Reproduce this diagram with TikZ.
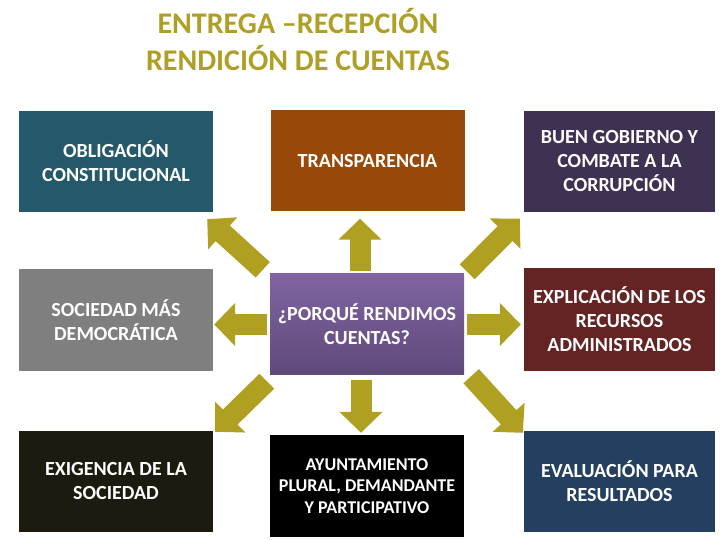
\documentclass[tikz,border=0pt]{standalone}
\usepackage{fontspec}
\setmainfont{Carlito}
\usepackage{tikz}
\usetikzlibrary{arrows.meta,positioning,calc}
\definecolor{rcgold}{HTML}{B0A022}
\definecolor{rctitle}{HTML}{B09F26}
\definecolor{rcteal}{HTML}{23596A}
\definecolor{rcbrown}{HTML}{984807}
\definecolor{rcplum}{HTML}{3F3151}
\definecolor{rcgray}{HTML}{7F7F7F}
\definecolor{rcvioA}{HTML}{8064A2}
\definecolor{rcvioB}{HTML}{5F497A}
\definecolor{rcwine}{HTML}{632423}
\definecolor{rcsoot}{HTML}{1D1B10}
\definecolor{rcnavy}{HTML}{243F60}

\begin{document}
\begin{tikzpicture}[x=1pt,y=1pt,
  bx/.style={rectangle,text=white,align=center,inner sep=2pt,minimum width=194pt,minimum height=101pt,font=\fontsize{20}{24}\selectfont\bfseries},
  ar/.style={line width=21pt,draw=rcgold,-{Triangle[length=21pt,width=42pt]}}]
  \useasboundingbox (0,0) rectangle (720,540);
  % title
  \node[text=rctitle,align=center,font=\fontsize{30}{37}\selectfont\bfseries] (ttl) at (298,500) {ENTREGA --RECEPCIÓN\\ RENDICIÓN DE CUENTAS};
  % boxes
  \node[bx,fill=rcteal]  (ob) at (116,378.5) {OBLIGACIÓN\\ CONSTITUCIONAL};
  \node[bx,fill=rcbrown] (tr) at (367.5,379) {TRANSPARENCIA};
  \node[bx,fill=rcplum,minimum width=191pt] (bg) at (619.5,378.5) {BUEN GOBIERNO Y\\ COMBATE A LA\\ CORRUPCIÓN};
  \node[bx,fill=rcgray,minimum height=102pt] (sd) at (116,220) {SOCIEDAD MÁS\\ DEMOCRÁTICA};
  \node[bx,top color=rcvioA,bottom color=rcvioB] (pq) at (367,215.5) {¿PORQUÉ RENDIMOS\\ CUENTAS?};
  \node[bx,fill=rcwine,minimum width=191pt,minimum height=103pt] (ex) at (619.5,220.5) {EXPLICACIÓN DE LOS\\ RECURSOS\\ ADMINISTRADOS};
  \node[bx,fill=rcsoot]  (es) at (116,58.5) {EXIGENCIA DE LA\\ SOCIEDAD};
  \node[bx,fill=black,minimum height=102pt,font=\fontsize{18}{21.5}\selectfont\bfseries] (ay) at (367,54) {AYUNTAMIENTO\\ PLURAL, DEMANDANTE\\ Y PARTICIPATIVO};
  \node[bx,fill=rcnavy,minimum width=191pt] (ev) at (619.5,58.5) {EVALUACIÓN PARA\\ RESULTADOS};
  % arrows
  \draw[ar,shorten <=3pt,shorten >=1pt] (pq.west) -- (pq.west -| sd.east);
  \draw[ar,shorten <=3pt,shorten >=3pt] (pq.east) -- (pq.east -| ex.west);
  \draw[ar,shorten <=3pt,shorten >=7pt] ([xshift=-7pt]pq.north) -- ([xshift=-7pt]pq.north |- tr.south);
  \draw[ar,shorten <=5pt,shorten >=2pt] ([xshift=-6pt]pq.south) -- ([xshift=-6pt]pq.south |- ay.north);
  \draw[ar] ([shift={(-7pt,4pt)}]pq.north west) -- ([shift={(-6pt,-7pt)}]ob.south east);
  \draw[ar] ([shift={(3pt,2pt)}]pq.north east) -- ([shift={(-4pt,-6.5pt)}]bg.south west);
  \draw[ar] ([shift={(-3pt,-6pt)}]pq.south west) -- ([shift={(2pt,-1pt)}]es.north east);
  \draw[ar] ([shift={(7pt,-1pt)}]pq.south east) -- ([shift={(-1pt,-2pt)}]ev.north west);
\end{tikzpicture}
\end{document}
